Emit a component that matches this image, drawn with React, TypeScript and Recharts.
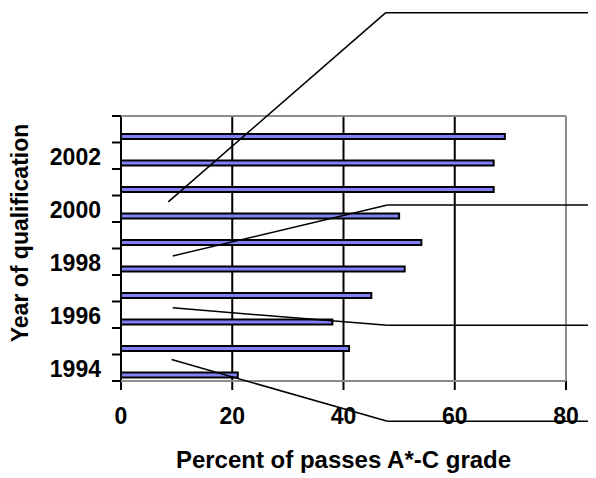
import * as React from "react";
import { BarChart, Bar, LineChart, XAxis, YAxis, CartesianGrid, ReferenceLine } from "recharts";

const years = [1994, 1995, 1996, 1997, 1998, 1999, 2000, 2001, 2002, 2003];
const passRate = [21, 41, 38, 45, 51, 54, 50, 67, 67, 69];
const labelledYears = [1994, 1996, 1998, 2000, 2002];
const xTicks = [0, 20, 40, 60, 80];

// callout leader lines (x in percent, y in years), the boxes sit off to the right
const calloutFromX = [8.5, 9.3, 9.3, 9.1];
const calloutFromYear = [2000.26, 1998.22, 1996.26, 1994.31];
const calloutBendX = [47.6, 47.9, 47.9, 47.9];
const calloutBendYear = [2007.4, 2000.14, 1995.6, 1991.98];
const calloutEndX = 90;

const W = 588;
const H = 470;
const M = { top: 108, right: 30, bottom: 0, left: 0 };
const YAXIS_W = 113;
const XAXIS_H = 97;
const PLOT_LEFT = M.left + YAXIS_W;
const PLOT_H = H - M.top - M.bottom - XAXIS_H;
const BAND = PLOT_H / years.length;

const FONT = "'Liberation Sans', Arial, sans-serif";
const FRAME = "#8c8c8c";

const data = years.map((y, i) => ({ year: String(y), spare: null, pct: passRate[i] }));

// position on the overlay's numeric axis: 0 = bottom of the 1994 band
const pos = (yr: number) => yr - (years[0] - 0.5);
const calloutRows = calloutFromX.map((x, i) => ({ x, y: pos(calloutFromYear[i]) }));

function YearTick(props: any) {
  const { y, payload } = props;
  const yr = Number(payload.value);
  const half = typeof payload.offset === "number" && payload.offset > 0 ? payload.offset : BAND / 2;
  return (
    <g>
      <line x1={PLOT_LEFT - 9} x2={PLOT_LEFT} y1={y + half} y2={y + half} stroke="#000" strokeWidth={2} />
      {yr === years[years.length - 1] && (
        <line x1={PLOT_LEFT - 9} x2={PLOT_LEFT} y1={y - half} y2={y - half} stroke="#000" strokeWidth={2} />
      )}
      {labelledYears.includes(yr) && (
        <text x={PLOT_LEFT - 20} y={y} dy={9} textAnchor="end" fill="#000" fontSize={23} fontWeight={700} fontFamily={FONT}>
          {yr}
        </text>
      )}
    </g>
  );
}

export default function App() {
  return (
    <div style={{ position: "relative", width: W, height: H }}>
      <BarChart width={W} height={H} data={data} layout="vertical" margin={M} barGap={10} barSize={5}>
        <CartesianGrid horizontal={false} stroke="#000" strokeWidth={2} />
        <XAxis
          type="number"
          domain={[0, 80]}
          ticks={xTicks}
          interval={0}
          allowDataOverflow
          height={XAXIS_H}
          tickSize={9}
          tickMargin={18}
          axisLine={{ stroke: "#000", strokeWidth: 2 }}
          tickLine={{ stroke: "#000", strokeWidth: 2 }}
          tick={{ fill: "#000", fontSize: 23, fontWeight: 700, fontFamily: FONT }}
          label={{
            content: () => (
              <text x={335.5} y={460} textAnchor="middle" fill="#000" fontSize={24} fontWeight={700} fontFamily={FONT}>
                Percent of passes A*-C grade
              </text>
            ),
          }}
        />
        <YAxis
          type="category"
          dataKey="year"
          reversed
          interval={0}
          width={YAXIS_W}
          tickLine={false}
          axisLine={{ stroke: "#000", strokeWidth: 2 }}
          tick={<YearTick />}
          label={{
            content: () => (
              <text
                transform="translate(20, 225) rotate(-90)"
                textAnchor="middle"
                fill="#000"
                fontSize={23}
                fontWeight={700}
                fontFamily={FONT}
              >
                Year of qualification
              </text>
            ),
          }}
        />
        <Bar dataKey="spare" fill="none" isAnimationActive={false} />
        <Bar dataKey="pct" fill="#8080F8" stroke="#000" strokeWidth={2} isAnimationActive={false} />
        <ReferenceLine x={80} stroke={FRAME} strokeWidth={2} />
      </BarChart>

      {/* overlay with plain numeric axes for the frame top and the callout leaders */}
      <div style={{ position: "absolute", left: 0, top: 0, pointerEvents: "none" }}>
        <LineChart
          width={W}
          height={H}
          data={calloutRows}
          margin={{ top: M.top, right: M.right, bottom: M.bottom + XAXIS_H, left: PLOT_LEFT }}
        >
          <CartesianGrid vertical={false} stroke={FRAME} strokeWidth={2} />
          <XAxis type="number" dataKey="x" domain={[0, 80]} allowDataOverflow hide />
          <YAxis type="number" dataKey="y" domain={[0, years.length]} ticks={[years.length]} allowDataOverflow hide />
          {calloutFromX.map((fx, i) => (
            <ReferenceLine
              key={"a" + i}
              ifOverflow="visible"
              stroke="#000"
              strokeWidth={1.5}
              segment={[
                { x: fx, y: pos(calloutFromYear[i]) },
                { x: calloutBendX[i], y: pos(calloutBendYear[i]) },
              ]}
            />
          ))}
          {calloutBendX.map((bx, i) => (
            <ReferenceLine
              key={"b" + i}
              ifOverflow="visible"
              stroke="#000"
              strokeWidth={1.5}
              segment={[
                { x: bx, y: pos(calloutBendYear[i]) },
                { x: calloutEndX, y: pos(calloutBendYear[i]) },
              ]}
            />
          ))}
        </LineChart>
      </div>
    </div>
  );
}
